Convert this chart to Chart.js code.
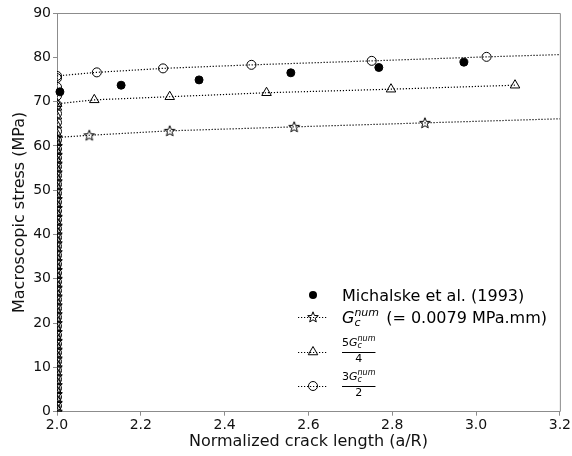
<!DOCTYPE html>
<html>
<head>
<meta charset="utf-8">
<script src="https://cdn.jsdelivr.net/npm/chart.js@4"></script>
<style>
  html, body { margin: 0; padding: 0; background: #fff; }
  #wrap { width: 572px; height: 456px; }
</style>
</head>
<body>
<div id="wrap"><canvas id="myChart" width="572" height="456"></canvas></div>
<script>
// experimental points
const michalskeX = [2.007, 2.153, 2.339, 2.558, 2.768, 2.971];
const michalskeY = [72.2, 73.7, 74.9, 76.5, 77.7, 78.9];

// loading ramp at a/R = 2 (before crack growth), then growth branch
const rampX = 2.0;
const starRampY = [0, 2, 4, 6, 8, 10, 12, 14, 16, 18, 20, 22, 24, 26, 28, 30, 32, 34, 36, 38, 40, 42, 44, 46, 48, 50, 52, 54, 56, 58, 60, 61.9];
const starX = [2.077, 2.269, 2.566, 2.878, 3.3];
const starY = [62.4, 63.4, 64.3, 65.2, 66.4];

const triRampY = [0.7, 2.7, 4.7, 6.7, 8.7, 10.7, 12.7, 14.7, 16.7, 18.7, 20.7, 22.7, 24.7, 26.7, 28.7, 30.7, 32.7, 34.7, 36.7, 38.7, 40.7, 42.7, 44.7, 46.7, 48.7, 50.7, 52.7, 54.7, 56.7, 58.7, 60.7, 62.7, 64.7, 66.7, 68.7, 69.5];
const triX = [2.089, 2.269, 2.500, 2.797, 3.093];
const triY = [70.4, 71.1, 72.0, 72.8, 73.7];

const circRampY = [1.3, 3.3, 5.3, 7.3, 9.3, 11.3, 13.3, 15.3, 17.3, 19.3, 21.3, 23.3, 25.3, 27.3, 29.3, 31.3, 33.3, 35.3, 37.3, 39.3, 41.3, 43.3, 45.3, 47.3, 49.3, 51.3, 53.3, 55.3, 57.3, 59.3, 61.3, 63.3, 65.3, 67.3, 69.3, 71.3, 73.3, 75.3, 75.8];
const circX = [2.095, 2.253, 2.464, 2.751, 3.025, 3.3];
const circY = [76.6, 77.5, 78.3, 79.2, 80.1, 80.9];

const xTicks = [2.0, 2.2, 2.4, 2.6, 2.8, 3.0, 3.2];
const yTicks = [0, 10, 20, 30, 40, 50, 60, 70, 80, 90];

const FONT = "'DejaVu Sans', sans-serif";
const SPINE = '#8c8c8c';
const DOTS = [1.2, 1.8];

function pts(xs, ys) {
  return xs.map((x, i) => ({ x: x, y: ys[i] }));
}
function withRamp(ramp, xs, ys) {
  return ramp.map(y => ({ x: rampX, y: y })).concat(pts(xs, ys));
}

// hollow five point star as point image
function makeStar() {
  const c = document.createElement('canvas');
  c.width = 14; c.height = 14;
  const g = c.getContext('2d');
  g.beginPath();
  for (let k = 0; k < 10; k++) {
    const r = k % 2 === 0 ? 5.6 : 2.4;
    const a = -Math.PI / 2 + k * Math.PI / 5;
    const px = 7 + r * Math.cos(a), py = 7.4 + r * Math.sin(a);
    k === 0 ? g.moveTo(px, py) : g.lineTo(px, py);
  }
  g.closePath();
  g.lineWidth = 1;
  g.strokeStyle = '#000';
  g.stroke();
  return c;
}
const starImg = makeStar();

const lineClip = { left: 0, top: 0, right: 0, bottom: 0 };

const data = {
  datasets: [
    {
      label: 'Michalske et al. (1993)',
      data: pts(michalskeX, michalskeY),
      showLine: false,
      pointStyle: 'circle',
      pointRadius: 4,
      backgroundColor: '#000',
      borderColor: '#000',
      clip: false,
    },
    {
      label: 'Gc',
      data: withRamp(starRampY, starX, starY),
      showLine: true,
      borderColor: '#000',
      borderWidth: 1.2,
      borderDash: DOTS,
      pointStyle: starImg,
      pointRadius: 5,
      backgroundColor: 'rgba(0,0,0,0)',
      clip: lineClip,
    },
    {
      label: '5Gc/4',
      data: withRamp(triRampY, triX, triY),
      showLine: true,
      borderColor: '#000',
      borderWidth: 1.2,
      borderDash: DOTS,
      pointStyle: 'triangle',
      pointRadius: 5.5,
      pointBorderWidth: 1,
      pointBorderColor: '#000',
      pointBackgroundColor: 'rgba(0,0,0,0)',
      clip: lineClip,
    },
    {
      label: '3Gc/2',
      data: withRamp(circRampY, circX, circY),
      showLine: true,
      borderColor: '#000',
      borderWidth: 1.2,
      borderDash: DOTS,
      pointStyle: 'circle',
      pointRadius: 4.5,
      pointBorderWidth: 1,
      pointBorderColor: '#000',
      pointBackgroundColor: 'rgba(0,0,0,0)',
      clip: lineClip,
    },
  ],
};

// top and right spines
const framePlugin = {
  id: 'frame',
  afterDatasetsDraw(chart) {
    const { ctx, chartArea: ca } = chart;
    ctx.save();
    ctx.strokeStyle = SPINE;
    ctx.lineWidth = 1;
    ctx.beginPath();
    ctx.moveTo(ca.left, ca.top + 0.5);
    ctx.lineTo(ca.right + 0.5, ca.top + 0.5);
    ctx.lineTo(ca.right + 0.5, ca.bottom);
    ctx.stroke();
    ctx.restore();
  },
};

function gSymbol(ctx, x, y, big, small) {
  // G with sub c and sup num, returns end x
  ctx.font = 'italic ' + big + 'px ' + FONT;
  ctx.fillText('G', x, y);
  const gx = x + ctx.measureText('G').width;
  ctx.font = 'italic ' + small + 'px ' + FONT;
  ctx.fillText('c', gx, y + small * 0.3);
  ctx.fillText('num', gx, y - big * 0.42);
  return gx + ctx.measureText('num').width;
}

const legendPlugin = {
  id: 'mathLegend',
  afterDraw(chart) {
    const { ctx, chartArea: ca } = chart;
    const lx = ca.left + 241;      // handle start
    const tx = lx + 44;            // text start
    const rows = [ca.top + 282, ca.top + 304, ca.top + 339, ca.top + 373];
    ctx.save();
    ctx.fillStyle = '#000';
    ctx.strokeStyle = '#000';
    ctx.textBaseline = 'alphabetic';

    // row 1
    ctx.beginPath();
    ctx.arc(lx + 15, rows[0], 4, 0, Math.PI * 2);
    ctx.fill();
    ctx.font = '16px ' + FONT;
    ctx.fillText('Michalske et al. (1993)', tx, rows[0] + 6);

    // handles for rows 2-4
    for (let i = 1; i < 4; i++) {
      ctx.save();
      ctx.lineWidth = 1.2;
      ctx.setLineDash(DOTS);
      ctx.beginPath();
      ctx.moveTo(lx, rows[i] + 0.5);
      ctx.lineTo(lx + 30, rows[i] + 0.5);
      ctx.stroke();
      ctx.restore();
    }
    ctx.drawImage(starImg, lx + 15 - 7, rows[1] - 7);
    ctx.save();
    ctx.lineWidth = 1;
    ctx.fillStyle = 'rgba(0,0,0,0)';
    Chart.helpers.drawPoint(ctx, { pointStyle: 'triangle', radius: 5.5, borderWidth: 1 }, lx + 15, rows[2]);
    ctx.beginPath();
    ctx.arc(lx + 15, rows[3], 4.5, 0, Math.PI * 2);
    ctx.stroke();
    ctx.restore();

    // row 2 : G_c^num (= 0.0079 MPa.mm)
    const e2 = gSymbol(ctx, tx, rows[1] + 6, 16, 11);
    ctx.font = '16px ' + FONT;
    ctx.fillText(' (= 0.0079 MPa.mm)', e2 + 2, rows[1] + 6);

    // rows 3 and 4 : fractions
    [['5', '4', rows[2]], ['3', '2', rows[3]]].forEach(f => {
      const yb = f[2];
      ctx.font = '11px ' + FONT;
      ctx.fillText(f[0], tx, yb - 6);
      const nx = tx + ctx.measureText(f[0]).width;
      const end = gSymbol(ctx, nx, yb - 6, 11, 8);
      ctx.fillRect(tx, yb, end - tx, 1);
      ctx.font = '11px ' + FONT;
      const w = ctx.measureText(f[1]).width;
      ctx.fillText(f[1], tx + (end - tx - w) / 2, yb + 10);
    });
    ctx.restore();
  },
};

const config = {
  type: 'scatter',
  data: data,
  plugins: [framePlugin, legendPlugin],
  options: {
    responsive: false,
    animation: false,
    layout: { padding: { top: 13, right: 12, left: 0, bottom: 0 } },
    plugins: { legend: { display: false }, tooltip: { enabled: false } },
    scales: {
      x: {
        type: 'linear',
        min: 2.0,
        max: 3.2,
        afterBuildTicks: s => { s.ticks = xTicks.map(v => ({ value: v })); },
        afterFit: s => { s.height = 44.3; },
        ticks: {
          color: '#111',
          font: { family: FONT, size: 14 },
          padding: 1,
          maxRotation: 0,
          callback: v => Number(v).toFixed(1),
        },
        grid: { drawOnChartArea: false, drawTicks: true, tickLength: 4, color: SPINE },
        border: { display: true, color: SPINE, width: 1 },
        title: {
          display: true,
          text: 'Normalized crack length (a/R)',
          color: '#111',
          font: { family: FONT, size: 16 },
          padding: { top: 0, bottom: 5 },
        },
      },
      y: {
        type: 'linear',
        min: 0,
        max: 90,
        afterBuildTicks: s => { s.ticks = yTicks.map(v => ({ value: v })); },
        afterFit: s => { s.width = 57; },
        ticks: {
          color: '#111',
          font: { family: FONT, size: 14 },
          padding: 2,
          callback: v => String(v),
        },
        grid: { drawOnChartArea: false, drawTicks: true, tickLength: 4, color: SPINE },
        border: { display: true, color: SPINE, width: 1 },
        title: {
          display: true,
          text: 'Macroscopic stress (MPa)',
          color: '#111',
          font: { family: FONT, size: 16 },
          padding: { top: 10, bottom: 0 },
        },
      },
    },
  },
};

new Chart(document.getElementById('myChart'), config);
</script>
</body>
</html>
